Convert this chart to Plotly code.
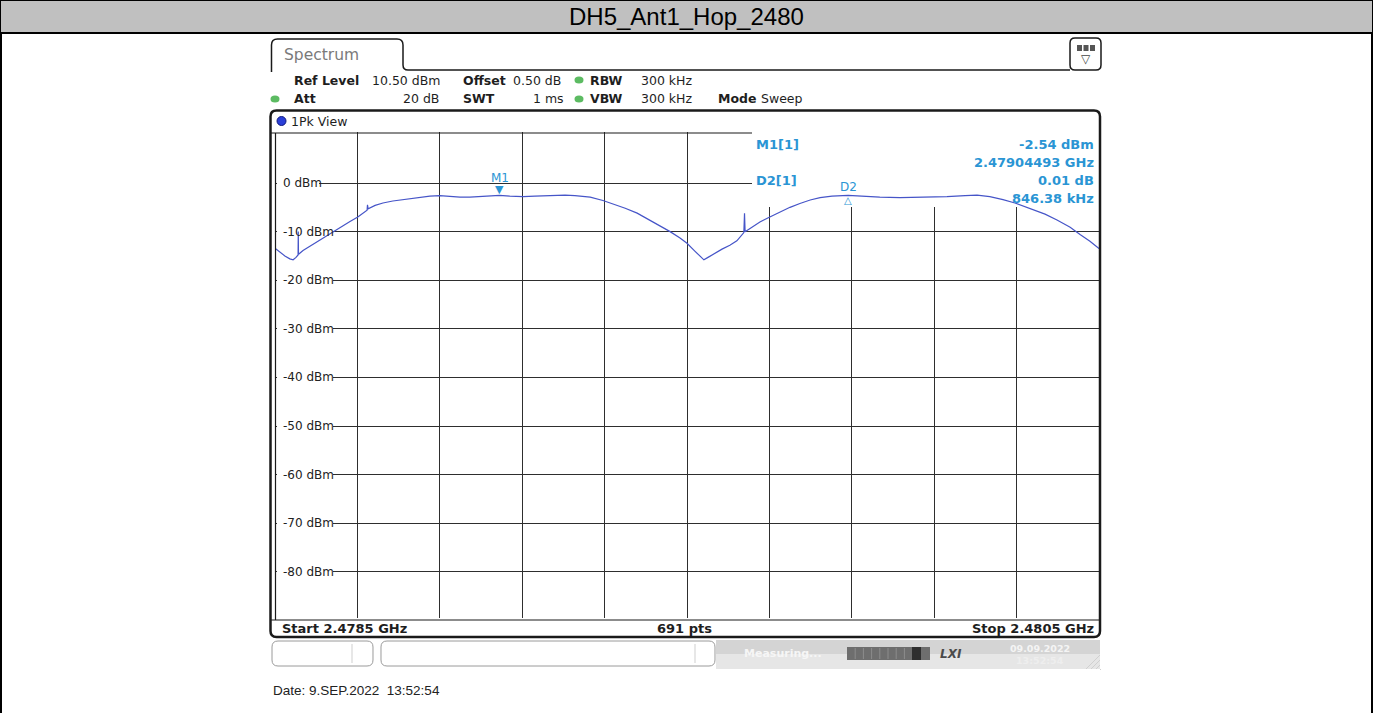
import plotly.graph_objects as go

# ---------------- data ----------------
freq_mhz = [2478.500, 2478.512, 2478.524, 2478.536, 2478.544, 2478.551, 2478.556, 2478.5565, 2478.557,
            2478.558, 2478.568, 2478.585, 2478.604, 2478.624, 2478.641, 2478.658, 2478.682, 2478.701,
            2478.718, 2478.7235, 2478.7245, 2478.726, 2478.743, 2478.762, 2478.786, 2478.811, 2478.840,
            2478.876, 2478.900, 2478.925, 2478.949, 2478.973, 2478.998, 2479.022, 2479.045, 2479.070,
            2479.102, 2479.131, 2479.167, 2479.204, 2479.228, 2479.265, 2479.296, 2479.325, 2479.350,
            2479.379, 2479.405, 2479.434, 2479.459, 2479.483, 2479.500, 2479.519, 2479.532, 2479.541,
            2479.551, 2479.568, 2479.585, 2479.604, 2479.621, 2479.638, 2479.6390, 2479.6396, 2479.641,
            2479.658, 2479.677, 2479.701, 2479.726, 2479.750, 2479.774, 2479.799, 2479.823, 2479.852,
            2479.891, 2479.920, 2479.968, 2480.017, 2480.049, 2480.090, 2480.131, 2480.175, 2480.204,
            2480.235, 2480.267, 2480.296, 2480.333, 2480.369, 2480.398, 2480.430, 2480.454, 2480.478,
            2480.500]
level_dbm = [-13.4, -14.3, -15.0, -15.6, -15.8, -15.3, -14.8, -10.0, -14.7,
             -14.6, -13.9, -13.0, -11.9, -10.9, -10.1, -9.2, -7.9, -7.0,
             -6.0, -5.6, -4.5, -5.3, -4.6, -4.1, -3.7, -3.4, -3.0,
             -2.7, -2.6, -2.8, -2.9, -2.9, -2.8, -2.7, -2.54, -2.7,
             -2.8, -2.7, -2.6, -2.5, -2.6, -2.9, -3.6, -4.4, -5.2,
             -6.2, -7.4, -8.8, -10.0, -11.3, -12.4, -14.0, -15.0, -15.8,
             -15.3, -14.4, -13.6, -12.8, -11.9, -10.2, -6.2, -6.2, -10.0,
             -9.0, -8.0, -7.0, -5.9, -5.0, -4.2, -3.5, -3.0, -2.7,
             -2.53, -2.7, -2.9, -3.0, -2.95, -2.9, -2.8, -2.6, -2.5,
             -2.8, -3.4, -4.1, -5.2, -6.4, -7.6, -9.1, -10.6, -12.0,
             -13.5]

start_mhz, stop_mhz = 2478.5, 2480.5
ref_level, bottom_level = 10.5, -89.5
grid_freqs = [2478.7, 2478.9, 2479.1, 2479.3, 2479.5, 2479.7, 2479.9, 2480.1, 2480.3]
level_ticks = [0, -10, -20, -30, -40, -50, -60, -70, -80]
level_labels = ["0 dBm", "-10 dBm", "-20 dBm", "-30 dBm", "-40 dBm",
                "-50 dBm", "-60 dBm", "-70 dBm", "-80 dBm"]

m1_freq_ghz = 2.47904493
m1_level = -2.54
d2_delta_db = 0.01
d2_delta_khz = 846.38

title_text = "DH5_Ant1_Hop_2480"
date_text = "Date: 9.SEP.2022\u00a0 13:52:54"

# ---------------- geometry helpers ----------------
W, H = 1373, 713
PL, PR, PT, PB = 275, 1099, 132, 618


def px(x):
    return (x - PL) / (PR - PL)


def py(y):
    return (PB - y) / (PB - PT)


def fx(x):
    return start_mhz + (x - PL) / (PR - PL) * (stop_mhz - start_mhz)


def fy(y):
    return ref_level - (y - PT) / (PB - PT) * (ref_level - bottom_level)


def rrect_path(x0, y0, x1, y1, r):
    pts = [("M", x0 + r, y0), ("L", x1 - r, y0), ("Q", x1, y0, x1, y0 + r), ("L", x1, y1 - r),
           ("Q", x1, y1, x1 - r, y1), ("L", x0 + r, y1), ("Q", x0, y1, x0, y1 - r),
           ("L", x0, y0 + r), ("Q", x0, y0, x0 + r, y0)]
    s = ""
    for p in pts:
        if p[0] == "Q":
            s += f"Q{px(p[1]):.5f},{py(p[2]):.5f} {px(p[3]):.5f},{py(p[4]):.5f} "
        else:
            s += f"{p[0]}{px(p[1]):.5f},{py(p[2]):.5f} "
    return s + "Z"


def line(x0, y0, x1, y1, color="#1a1a1a", width=1.2):
    return dict(type="line", xref="paper", yref="paper", x0=px(x0), y0=py(y0), x1=px(x1), y1=py(y1),
                line=dict(color=color, width=width), layer="above")


def rect(x0, y0, x1, y1, fill, lc=None, lw=0, layer="above"):
    return dict(type="rect", xref="paper", yref="paper", x0=px(x0), y0=py(y0), x1=px(x1), y1=py(y1),
                fillcolor=fill, line=dict(color=lc or fill, width=lw), layer=layer)


def txt(t, x, y, anchor="left", size=12.5, color="#1e1e1e", family="DejaVu Sans", bold=False):
    return dict(text=f"<b>{t}</b>" if bold else t, xref="paper", yref="paper", x=px(x), y=py(y),
                xanchor=anchor, yanchor="middle", showarrow=False,
                font=dict(size=size, color=color, family=family))


FR = "#1a1a1a"
MK = "#2a95d4"
shapes, annots = [], []

# page: title bar and cell borders
shapes.append(rect(0, 0, W, 33, "#c0c0c0", "#000000", 2))
shapes.append(line(1, 33, 1, H, "#000000", 2))
shapes.append(line(W - 1, 33, W - 1, H, "#000000", 2))
annots.append(txt(title_text, W / 2, 17, "center", 24, "#000000", "Liberation Sans, Arial"))

# tab and header line
tab = (f"M{px(271.5):.5f},{py(72):.5f} L{px(271.5):.5f},{py(45):.5f} "
       f"Q{px(271.5):.5f},{py(39):.5f} {px(277.5):.5f},{py(39):.5f} "
       f"L{px(397):.5f},{py(39):.5f} Q{px(403):.5f},{py(39):.5f} {px(403):.5f},{py(45):.5f} "
       f"L{px(403):.5f},{py(65):.5f} Q{px(403):.5f},{py(70):.5f} {px(408):.5f},{py(70):.5f} "
       f"L{px(1070):.5f},{py(70):.5f}")
shapes.append(dict(type="path", xref="paper", yref="paper", path=tab,
                   line=dict(color=FR, width=1.5), layer="above"))
annots.append(txt("Spectrum", 282, 55, size=15.5, color="#7a7a7a"))
# icon box
shapes.append(dict(type="path", xref="paper", yref="paper", path=rrect_path(1070, 38, 1101, 70, 5),
                   line=dict(color=FR, width=1.5), fillcolor="#ffffff", layer="above"))
for i in range(3):
    shapes.append(rect(1077 + i * 6.5, 45, 1082 + i * 6.5, 51, "#555555"))
annots.append(txt("▽", 1086, 59, "center", 12, "#444444"))

# header parameters
row1, row2 = 80, 99
annots += [
    txt("Ref Level", 292, row1, bold=True), txt("10.50 dBm", 370, row1),
    txt("Offset", 461, row1, bold=True), txt("0.50 dB", 511, row1),
    txt("RBW", 588, row1, bold=True), txt("300 kHz", 639, row1),
    txt("Att", 292, row2, bold=True), txt("20 dB", 441, row2, "right"),
    txt("SWT", 461, row2, bold=True), txt("1 ms", 566, row2, "right"),
    txt("VBW", 588, row2, bold=True), txt("300 kHz", 639, row2),
    txt("Mode", 716, row2, bold=True), txt("Sweep", 759, row2),
]
for cx, cy in [(579, row1), (275, row2), (579, row2)]:
    shapes.append(dict(type="circle", xref="paper", yref="paper", x0=px(cx - 4.5), x1=px(cx + 4.5),
                       y0=py(cy + 3.5), y1=py(cy - 3.5), fillcolor="#5cbb62",
                       line=dict(color="#5cbb62", width=0), layer="above"))

# main frame
shapes.append(dict(type="path", xref="paper", yref="paper", path=rrect_path(270.5, 110.5, 1100, 637, 6),
                   line=dict(color=FR, width=2.5), layer="above"))
shapes.append(dict(type="circle", xref="paper", yref="paper", x0=px(277), x1=px(286),
                   y0=py(125.5), y1=py(116.5), fillcolor="#2a3fd8", line=dict(color="#101a80", width=1),
                   layer="above"))
annots.append(txt("1Pk View", 289, 121))
shapes.append(line(271, 133, 752, 133))
shapes.append(line(275.5, 133, 275.5, 620))
shapes.append(line(271, 620, 1100, 620))

# marker table area (masks grid, trace stays on top)
shapes.append(dict(type="rect", xref="x", yref="y", x0=fx(752), x1=stop_mhz, y0=fy(207), y1=ref_level,
                   fillcolor="#ffffff", line=dict(width=0), layer="between"))
d2_freq_mhz = m1_freq_ghz * 1000 + d2_delta_khz / 1000
d2_level = m1_level + d2_delta_db
annots += [
    txt("M1[1]", 754, 144, size=13, color=MK, bold=True),
    txt(f"{m1_level:.2f} dBm", 1096, 144, "right", 13, MK, bold=True),
    txt(f"{m1_freq_ghz:.8f} GHz", 1096, 162, "right", 13, MK, bold=True),
    txt("D2[1]", 754, 180, size=13, color=MK, bold=True),
    txt(f"{d2_delta_db:.2f} dB", 1096, 180, "right", 13, MK, bold=True),
    txt(f"{d2_delta_khz:.2f} kHz", 1096, 198, "right", 13, MK, bold=True),
]

# level labels with grid masks
for lv, lab in zip(level_ticks, level_labels):
    w = len(lab) * 7.0 + 4
    shapes.append(dict(type="rect", xref="x", yref="y", x0=fx(277), x1=fx(280 + w),
                       y0=lv - 1.3, y1=lv + 1.3, fillcolor="#ffffff", line=dict(width=0), layer="between"))
    annots.append(dict(text=lab, xref="paper", yref="y", x=px(281), y=lv, xanchor="left", yanchor="middle",
                       showarrow=False, font=dict(size=12, color="#222222", family="DejaVu Sans")))

# markers on the trace
m1_freq_mhz = m1_freq_ghz * 1000
annots += [
    dict(text="▼", x=m1_freq_mhz, y=m1_level, xref="x", yref="y", xanchor="center", yanchor="bottom",
         showarrow=False, yshift=-3, font=dict(size=11, color=MK, family="DejaVu Sans")),
    dict(text="M1", x=m1_freq_mhz, y=m1_level, xref="x", yref="y", xanchor="center", yanchor="bottom",
         showarrow=False, yshift=8, font=dict(size=12, color=MK, family="DejaVu Sans")),
    dict(text="△", x=d2_freq_mhz, y=d2_level, xref="x", yref="y", xanchor="center", yanchor="top",
         showarrow=False, yshift=2, font=dict(size=10, color=MK, family="DejaVu Sans")),
    dict(text="D2", x=d2_freq_mhz, y=d2_level, xref="x", yref="y", xanchor="center", yanchor="bottom",
         showarrow=False, yshift=-1, font=dict(size=12, color=MK, family="DejaVu Sans")),
]

# footer row
annots += [
    txt("Start 2.4785 GHz", 280, 628, size=13, bold=True),
    txt("691 pts", 684, 628, "center", 13, bold=True),
    txt("Stop 2.4805 GHz", 1096, 628, "right", 13, bold=True),
]

# status bar
shapes.append(dict(type="path", xref="paper", yref="paper", path=rrect_path(272, 641, 373, 666, 6),
                   line=dict(color="#9a9a9a", width=1), fillcolor="#ffffff", layer="above"))
shapes.append(line(352, 644, 352, 663, "#cfcfcf", 1))
shapes.append(dict(type="path", xref="paper", yref="paper", path=rrect_path(381, 641, 715, 666, 6),
                   line=dict(color="#9a9a9a", width=1), fillcolor="#ffffff", layer="above"))
shapes.append(line(695, 644, 695, 663, "#cfcfcf", 1))
shapes.append(rect(716, 640, 1100, 654, "#d4d4d4"))
shapes.append(rect(716, 654, 1100, 669, "#e6e6e6"))
annots.append(txt("Measuring...", 742, 653, size=11, color="#f6f6f6", bold=True))
shapes.append(rect(847, 647, 930, 660, "#6e6e6e"))
for i in range(1, 9):
    shapes.append(line(847 + i * 8.2, 648, 847 + i * 8.2, 659, "#8c8c8c", 1))
shapes.append(rect(912, 647, 921, 660, "#2e2e2e"))
annots.append(txt("<i><b>LXI</b></i>", 938, 654, size=12, color="#4a4a4a"))
annots.append(txt("09.09.2022", 1040, 648, "center", 9.5, "#f4f4f4", bold=True))
annots.append(txt("13:52:54", 1040, 660, "center", 9.5, "#eeeeee", bold=True))
for k in range(4):
    shapes.append(line(1086 + k * 5, 669, 1100, 655 + k * 5, "#d0d0d0", 1))

annots.append(txt(date_text, 271, 690, size=13.5, color="#222222", family="Liberation Sans, Arial"))

# ---------------- figure ----------------
fig = go.Figure()
fig.add_trace(go.Scatter(x=freq_mhz, y=level_dbm, mode="lines",
                         line=dict(color="#4655c8", width=1.2), hoverinfo="skip", showlegend=False))
fig.update_layout(
    width=W, height=H, margin=dict(l=PL, r=W - PR, t=PT, b=H - PB, pad=0),
    paper_bgcolor="#ffffff", plot_bgcolor="#ffffff", showlegend=False,
    xaxis=dict(range=[start_mhz, stop_mhz], tickvals=grid_freqs, showticklabels=False, ticks="",
               showgrid=True, gridcolor="#2e2e2e", gridwidth=1, zeroline=False, showline=False, fixedrange=True),
    yaxis=dict(range=[bottom_level, ref_level], tickvals=level_ticks, showticklabels=False, ticks="",
               showgrid=True, gridcolor="#2e2e2e", gridwidth=1, zeroline=False, showline=False, fixedrange=True),
    shapes=shapes, annotations=annots,
)
fig.write_html("out.html", config={"displayModeBar": False},
               post_script="document.body.style.margin='0';document.body.style.overflow='hidden';")
